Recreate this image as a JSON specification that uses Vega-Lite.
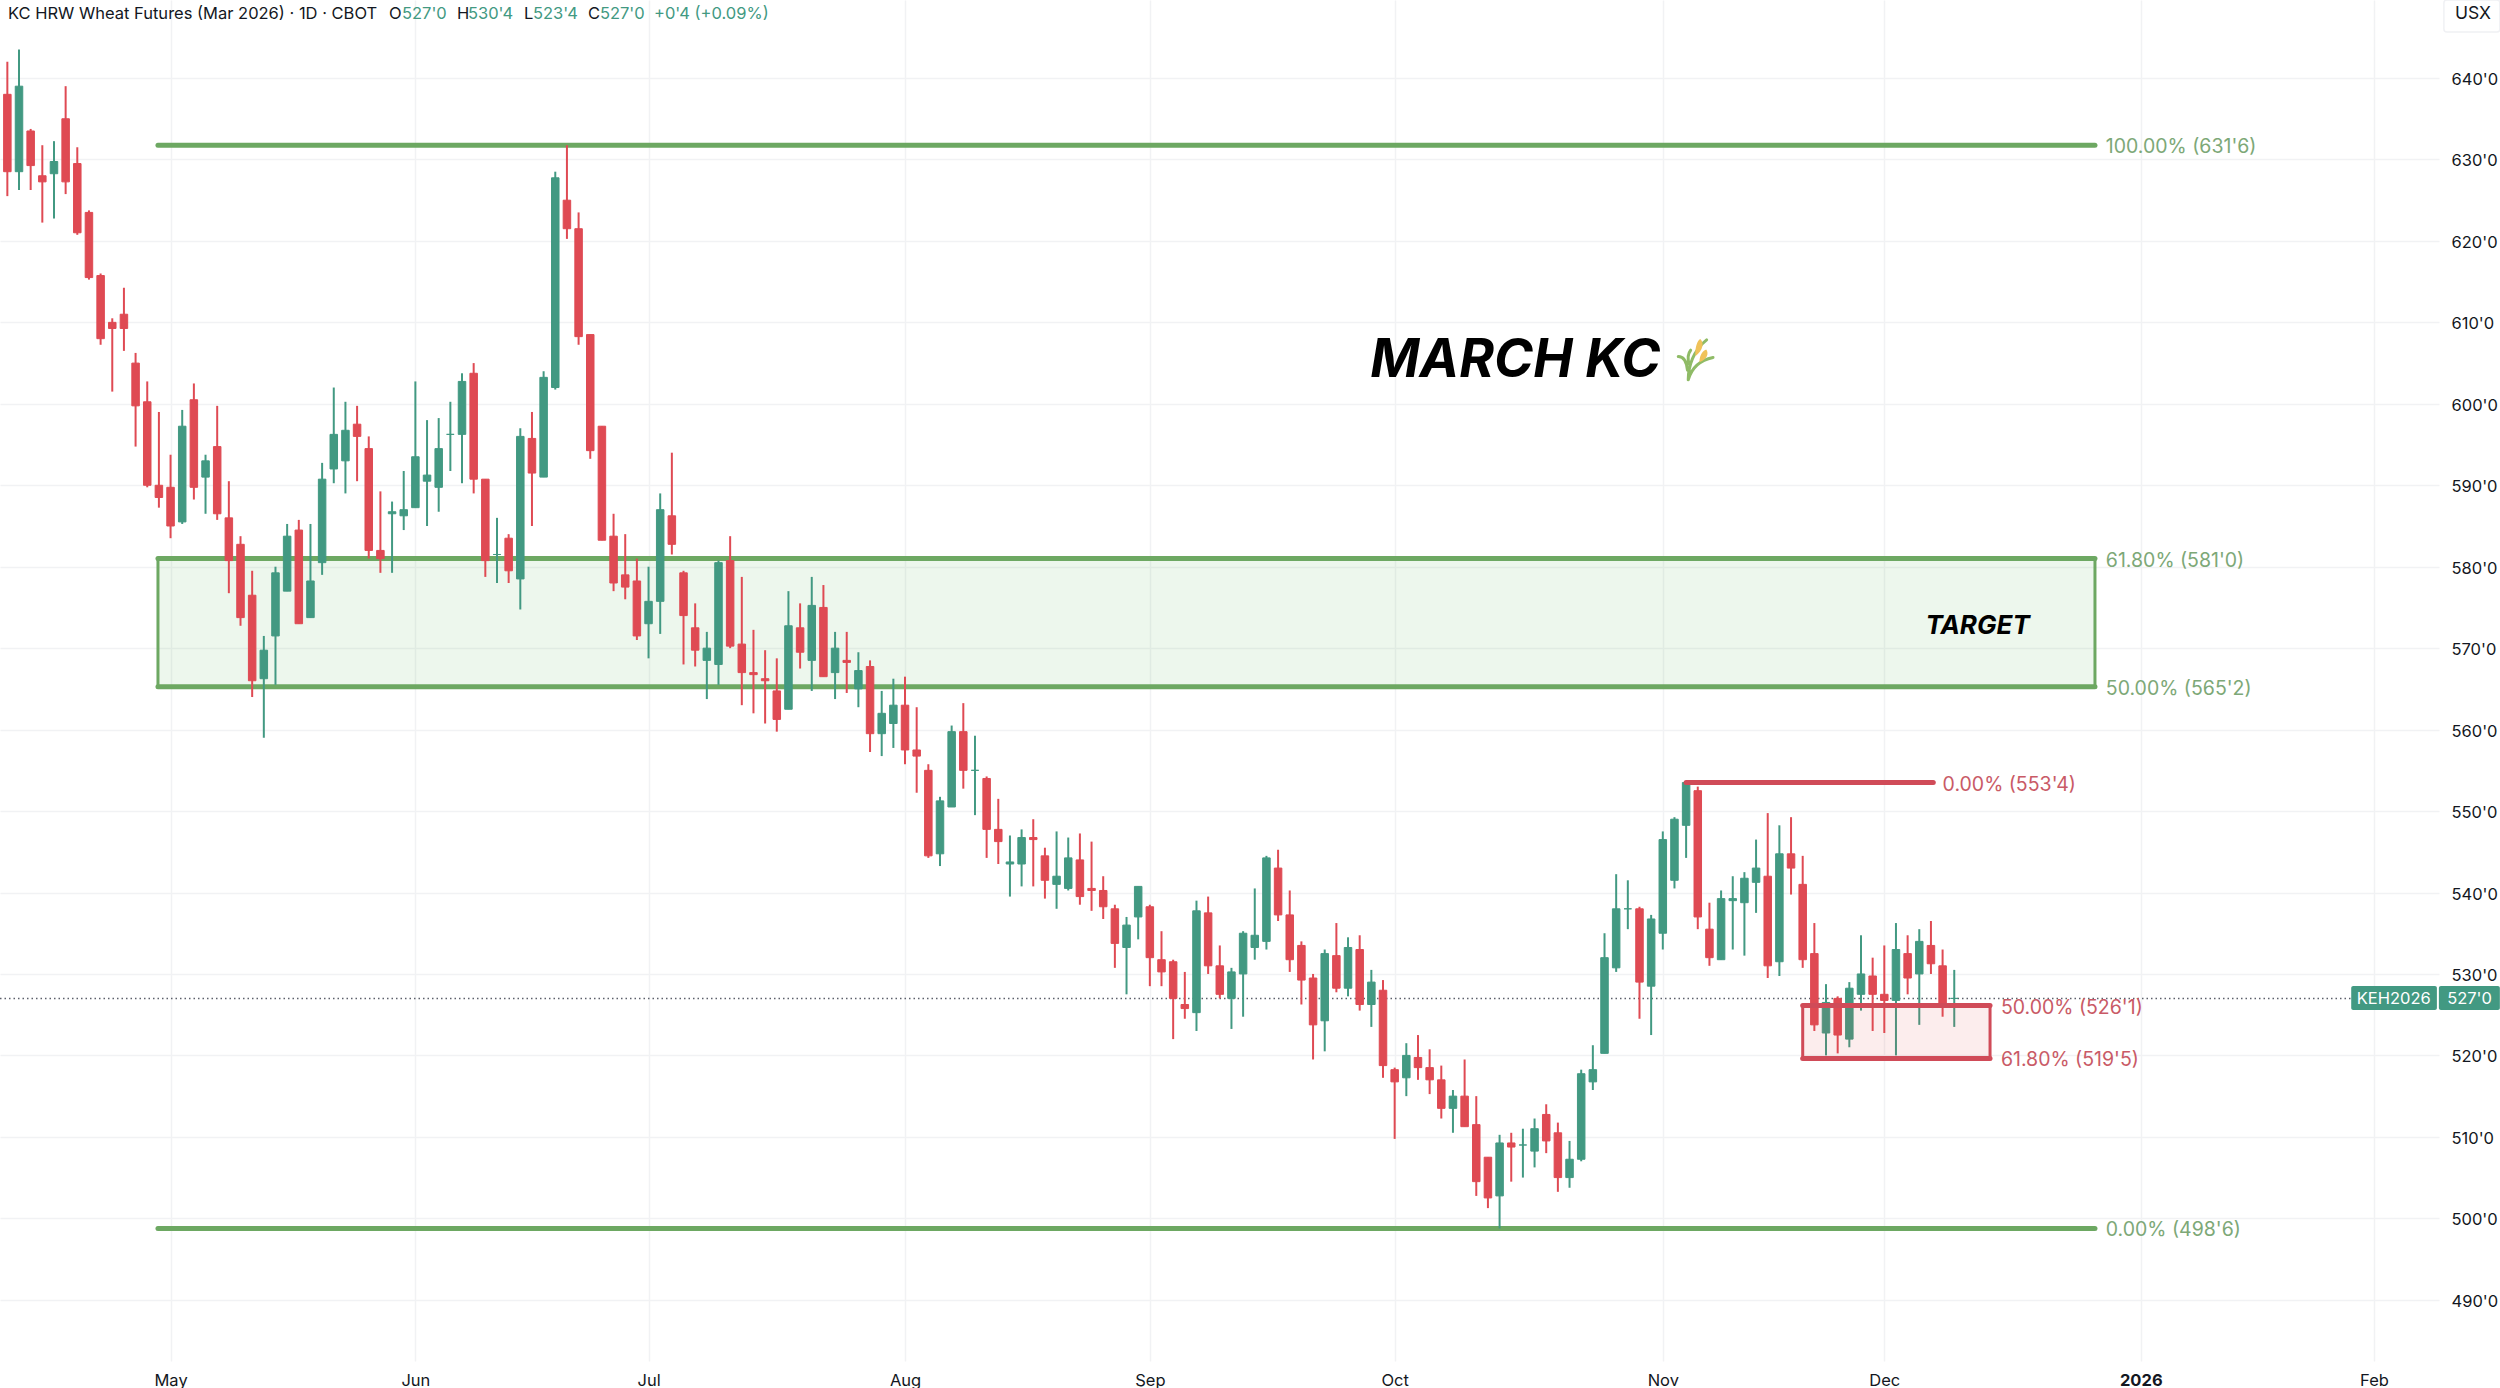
{
  "$schema": "https://vega.github.io/schema/vega-lite/v6.json",
  "width": 2439,
  "height": 1361,
  "autosize": "none",
  "padding": {"left": 0, "top": 0, "right": 61, "bottom": 27},
  "background": "white",
  "view": {"stroke": null},
  "datasets": {
    "candles": [
      {"bar":-14,"open":638,"high":642,"low":625.5,"close":628.5},
      {"bar":-13,"open":628.5,"high":643.5,"low":626.25,"close":639},
      {"bar":-12,"open":633.5,"high":633.75,"low":626.25,"close":629.25},
      {"bar":-11,"open":628,"high":631.75,"low":622.25,"close":627.25},
      {"bar":-10,"open":628.25,"high":632.25,"low":622.75,"close":629.75},
      {"bar":-9,"open":635,"high":639,"low":625.75,"close":627.25},
      {"bar":-8,"open":629.5,"high":631.5,"low":620.75,"close":621},
      {"bar":-7,"open":623.5,"high":623.75,"low":615.25,"close":615.5},
      {"bar":-6,"open":615.75,"high":616,"low":607.25,"close":608},
      {"bar":-5,"open":610,"high":610.5,"low":601.5,"close":609.25},
      {"bar":-4,"open":611,"high":614.25,"low":606.5,"close":609.25},
      {"bar":-3,"open":605,"high":606.25,"low":594.75,"close":599.75},
      {"bar":-2,"open":600.25,"high":602.75,"low":589.75,"close":590},
      {"bar":-1,"open":590,"high":599,"low":587.25,"close":588.5},
      {"bar":0,"open":589.75,"high":593.75,"low":583.5,"close":585},
      {"bar":1,"open":585.5,"high":599.25,"low":585.25,"close":597.25},
      {"bar":2,"open":600.5,"high":602.5,"low":588.25,"close":589.75},
      {"bar":3,"open":591,"high":593.75,"low":586.5,"close":593},
      {"bar":4,"open":594.75,"high":599.75,"low":585.75,"close":586.5},
      {"bar":5,"open":586,"high":590.5,"low":576.75,"close":580.75},
      {"bar":6,"open":582.75,"high":583.75,"low":572.75,"close":573.75},
      {"bar":7,"open":576.5,"high":579.5,"low":564,"close":566},
      {"bar":8,"open":566.25,"high":571.5,"low":559,"close":569.75},
      {"bar":9,"open":571.5,"high":580,"low":565.5,"close":579.25},
      {"bar":10,"open":577,"high":585.25,"low":577,"close":583.75},
      {"bar":11,"open":584.5,"high":585.75,"low":573,"close":573},
      {"bar":12,"open":573.75,"high":585.25,"low":573.75,"close":578.25},
      {"bar":13,"open":580.5,"high":592.75,"low":579,"close":590.75},
      {"bar":14,"open":592,"high":602,"low":590.25,"close":596.25},
      {"bar":15,"open":593,"high":600.25,"low":589,"close":596.75},
      {"bar":16,"open":597.5,"high":599.75,"low":590.5,"close":596},
      {"bar":17,"open":594.5,"high":596,"low":581,"close":582},
      {"bar":18,"open":582,"high":589.25,"low":579.25,"close":581},
      {"bar":19,"open":586.5,"high":588,"low":579.25,"close":586.75},
      {"bar":20,"open":586.25,"high":591.75,"low":584.5,"close":587},
      {"bar":21,"open":587.25,"high":602.75,"low":587.25,"close":593.5},
      {"bar":22,"open":590.5,"high":598,"low":585,"close":591.25},
      {"bar":23,"open":589.75,"high":598.25,"low":586.75,"close":594.5},
      {"bar":24,"open":596.25,"high":600.25,"low":591.75,"close":596.25},
      {"bar":25,"open":596.25,"high":603.75,"low":590.25,"close":602.75},
      {"bar":26,"open":603.75,"high":605,"low":589,"close":590.75},
      {"bar":27,"open":590.75,"high":590.75,"low":578.75,"close":580.75},
      {"bar":28,"open":581.5,"high":586,"low":578,"close":581.5},
      {"bar":29,"open":583.5,"high":584,"low":578,"close":579.5},
      {"bar":30,"open":578.5,"high":597,"low":574.75,"close":596},
      {"bar":31,"open":595.75,"high":599,"low":585,"close":591.5},
      {"bar":32,"open":591,"high":604,"low":591,"close":603.25},
      {"bar":33,"open":602,"high":628.5,"low":601.75,"close":627.75},
      {"bar":34,"open":625,"high":631.75,"low":620.25,"close":621.5},
      {"bar":35,"open":621.5,"high":623.5,"low":607.25,"close":608.25},
      {"bar":36,"open":608.5,"high":608.5,"low":593.25,"close":594.25},
      {"bar":37,"open":597.25,"high":597.25,"low":583.25,"close":583.25},
      {"bar":38,"open":583.75,"high":586.5,"low":577,"close":578},
      {"bar":39,"open":579,"high":584,"low":576,"close":577.5},
      {"bar":40,"open":578.25,"high":581,"low":571,"close":571.5},
      {"bar":41,"open":573,"high":580,"low":568.75,"close":575.75},
      {"bar":42,"open":575.75,"high":589,"low":571.75,"close":587},
      {"bar":43,"open":586.25,"high":594,"low":581.5,"close":582.75},
      {"bar":44,"open":579.25,"high":579.5,"low":568,"close":574},
      {"bar":45,"open":572.5,"high":575.5,"low":567.75,"close":569.75},
      {"bar":46,"open":568.5,"high":572,"low":563.75,"close":570},
      {"bar":47,"open":568,"high":580.75,"low":565.5,"close":580.5},
      {"bar":48,"open":580.75,"high":583.75,"low":570,"close":570.25},
      {"bar":49,"open":570.5,"high":578.75,"low":563,"close":567},
      {"bar":50,"open":567,"high":572.25,"low":562,"close":566.75},
      {"bar":51,"open":566.25,"high":569.75,"low":560.75,"close":566},
      {"bar":52,"open":564.75,"high":568.75,"low":559.75,"close":561.25},
      {"bar":53,"open":562.5,"high":577,"low":562.5,"close":572.75},
      {"bar":54,"open":572.5,"high":575.5,"low":567.5,"close":569.5},
      {"bar":55,"open":568.5,"high":578.75,"low":564.75,"close":575.25},
      {"bar":56,"open":575,"high":577.75,"low":566.5,"close":566.5},
      {"bar":57,"open":567,"high":572,"low":563.75,"close":570},
      {"bar":58,"open":568.5,"high":572,"low":564.5,"close":568.25},
      {"bar":59,"open":565,"high":569.5,"low":562.75,"close":567.25},
      {"bar":60,"open":567.75,"high":568.5,"low":557.25,"close":559.5},
      {"bar":61,"open":559.5,"high":564.75,"low":556.75,"close":562},
      {"bar":62,"open":560.75,"high":566.25,"low":557.75,"close":563},
      {"bar":63,"open":563,"high":566.5,"low":555.75,"close":557.5},
      {"bar":64,"open":557.5,"high":562.75,"low":552.25,"close":556.75},
      {"bar":65,"open":555,"high":555.75,"low":544.25,"close":544.5},
      {"bar":66,"open":544.75,"high":551.75,"low":543.25,"close":551.25},
      {"bar":67,"open":550.5,"high":560.5,"low":550.5,"close":559.75},
      {"bar":68,"open":559.75,"high":563.25,"low":552.75,"close":555},
      {"bar":69,"open":555,"high":559.25,"low":549.5,"close":555},
      {"bar":70,"open":554,"high":554.25,"low":544.25,"close":547.75},
      {"bar":71,"open":547.75,"high":551.5,"low":543.5,"close":546.25},
      {"bar":72,"open":543.5,"high":547,"low":539.5,"close":543.75},
      {"bar":73,"open":543.5,"high":547.75,"low":540.75,"close":546.75},
      {"bar":74,"open":546.75,"high":549,"low":540.75,"close":546.5},
      {"bar":75,"open":544.5,"high":545.5,"low":539.25,"close":541.5},
      {"bar":76,"open":541,"high":547.5,"low":538,"close":542},
      {"bar":77,"open":540.5,"high":546.75,"low":540.25,"close":544.25},
      {"bar":78,"open":544,"high":547.25,"low":538.5,"close":539.5},
      {"bar":79,"open":540.5,"high":546.25,"low":537.75,"close":540.25},
      {"bar":80,"open":540.25,"high":542,"low":536.75,"close":538.25},
      {"bar":81,"open":538,"high":538.5,"low":530.75,"close":533.75},
      {"bar":82,"open":533.25,"high":537,"low":527.5,"close":536},
      {"bar":83,"open":537,"high":540.75,"low":534.25,"close":540.75},
      {"bar":84,"open":538.25,"high":538.5,"low":528.5,"close":532},
      {"bar":85,"open":531.75,"high":535.25,"low":528.5,"close":530.25},
      {"bar":86,"open":531.5,"high":531.75,"low":522,"close":527},
      {"bar":87,"open":526.25,"high":530.25,"low":524.5,"close":525.75},
      {"bar":88,"open":525.25,"high":539,"low":523,"close":537.75},
      {"bar":89,"open":537.5,"high":539.5,"low":530,"close":531},
      {"bar":90,"open":531,"high":533.5,"low":527,"close":527.5},
      {"bar":91,"open":527,"high":530.75,"low":523.25,"close":530.25},
      {"bar":92,"open":530,"high":535.25,"low":524.75,"close":535},
      {"bar":93,"open":533.25,"high":540.5,"low":531.75,"close":534.75},
      {"bar":94,"open":534,"high":544.5,"low":533,"close":544.25},
      {"bar":95,"open":543,"high":545.25,"low":536.5,"close":537.25},
      {"bar":96,"open":537.25,"high":540.25,"low":530.25,"close":531.75},
      {"bar":97,"open":533.5,"high":534,"low":526.25,"close":529.25},
      {"bar":98,"open":529.5,"high":530,"low":519.5,"close":523.75},
      {"bar":99,"open":524.25,"high":533,"low":520.5,"close":532.5},
      {"bar":100,"open":532.25,"high":536.25,"low":527.75,"close":528.25},
      {"bar":101,"open":528.25,"high":534.5,"low":527.25,"close":533.25},
      {"bar":102,"open":533,"high":534.75,"low":525.5,"close":526.25},
      {"bar":103,"open":526.25,"high":530.5,"low":523.5,"close":529},
      {"bar":104,"open":528,"high":529.25,"low":517.25,"close":518.75},
      {"bar":105,"open":518.25,"high":518.5,"low":509.75,"close":516.75},
      {"bar":106,"open":517.25,"high":521.5,"low":515,"close":520},
      {"bar":107,"open":519.75,"high":522.5,"low":517,"close":518.5},
      {"bar":108,"open":518.5,"high":520.75,"low":515.25,"close":517},
      {"bar":109,"open":517,"high":518.75,"low":512.25,"close":513.5},
      {"bar":110,"open":513.5,"high":515.75,"low":510.5,"close":515},
      {"bar":111,"open":515,"high":519.5,"low":511.25,"close":511.25},
      {"bar":112,"open":511.5,"high":515,"low":502.75,"close":504.5},
      {"bar":113,"open":507.5,"high":507.5,"low":501.25,"close":502.5},
      {"bar":114,"open":502.75,"high":510.25,"low":498.75,"close":509.25},
      {"bar":115,"open":509.25,"high":510.5,"low":504.5,"close":508.75},
      {"bar":116,"open":509,"high":511,"low":505,"close":509},
      {"bar":117,"open":508.25,"high":512.25,"low":506.25,"close":511},
      {"bar":118,"open":512.75,"high":514,"low":508,"close":509.5},
      {"bar":119,"open":510.5,"high":511.75,"low":503.25,"close":505},
      {"bar":120,"open":505,"high":509.5,"low":503.75,"close":507.25},
      {"bar":121,"open":507.25,"high":518.25,"low":507,"close":517.75},
      {"bar":122,"open":516.75,"high":521.25,"low":515.75,"close":518.25},
      {"bar":123,"open":520.25,"high":535,"low":520.25,"close":532},
      {"bar":124,"open":530.75,"high":542.25,"low":530.25,"close":538},
      {"bar":125,"open":538,"high":541.5,"low":535.5,"close":538},
      {"bar":126,"open":538,"high":538.25,"low":524.5,"close":529},
      {"bar":127,"open":528.5,"high":537.25,"low":522.5,"close":536.75},
      {"bar":128,"open":535,"high":547.5,"low":533,"close":546.5},
      {"bar":129,"open":541.5,"high":549.25,"low":540.5,"close":549},
      {"bar":130,"open":548.25,"high":553.5,"low":544.25,"close":553.5},
      {"bar":131,"open":552.5,"high":553,"low":535.5,"close":537},
      {"bar":132,"open":535.5,"high":538.75,"low":531,"close":532},
      {"bar":133,"open":531.75,"high":540.25,"low":531.75,"close":539.25},
      {"bar":134,"open":539,"high":542,"low":533,"close":539.25},
      {"bar":135,"open":538.75,"high":542.5,"low":532.25,"close":541.75},
      {"bar":136,"open":541.25,"high":546.5,"low":537.5,"close":543},
      {"bar":137,"open":542,"high":549.75,"low":529.5,"close":531},
      {"bar":138,"open":531.5,"high":548.25,"low":529.75,"close":544.75},
      {"bar":139,"open":544.75,"high":549.25,"low":539.75,"close":543},
      {"bar":140,"open":541,"high":544.5,"low":530.75,"close":531.75},
      {"bar":141,"open":532.5,"high":536.25,"low":523,"close":523.75},
      {"bar":142,"open":522.75,"high":528.75,"low":520,"close":526.5},
      {"bar":143,"open":527,"high":527.25,"low":520.25,"close":522.5},
      {"bar":144,"open":522,"high":529,"low":521,"close":528.25},
      {"bar":145,"open":527.5,"high":534.75,"low":525.5,"close":530},
      {"bar":146,"open":529.75,"high":532,"low":523,"close":527.5},
      {"bar":147,"open":527.5,"high":533.5,"low":522.75,"close":526.75},
      {"bar":148,"open":526.75,"high":536.25,"low":520,"close":533},
      {"bar":149,"open":532.5,"high":534.75,"low":527.5,"close":529.5},
      {"bar":150,"open":530,"high":535.5,"low":523.75,"close":534},
      {"bar":151,"open":533.5,"high":536.5,"low":530,"close":531.25},
      {"bar":152,"open":531,"high":533,"low":524.75,"close":526.25},
      {"bar":153,"open":527,"high":530.5,"low":523.5,"close":527}
    ],
    "greenFib": [
      {"bar":-1.08,"bar2":165.07,"price":631.75},
      {"bar":-1.08,"bar2":165.07,"price":581},
      {"bar":-1.08,"bar2":165.07,"price":565.25},
      {"bar":-1.08,"bar2":165.07,"price":498.75}
    ],
    "greenLabels": [
      {"bar":166,"price":631.75,"label":"100.00% (631'6)"},
      {"bar":166,"price":581,"label":"61.80% (581'0)"},
      {"bar":166,"price":565.25,"label":"50.00% (565'2)"},
      {"bar":166,"price":498.75,"label":"0.00% (498'6)"}
    ],
    "redFib": [
      {"bar":130,"bar2":151.2,"price":553.5},
      {"bar":140,"bar2":156.07,"price":526.125},
      {"bar":140,"bar2":156.07,"price":519.625}
    ],
    "redLabels": [
      {"bar":152,"price":553.5,"label":"0.00% (553'4)"},
      {"bar":157,"price":526.125,"label":"50.00% (526'1)"},
      {"bar":157,"price":519.625,"label":"61.80% (519'5)"}
    ],
    "header": [
      {"bar":-13.95,"price":647.9,"text":"KC HRW Wheat Futures (Mar 2026) · 1D · CBOT"},
      {"bar":18.74,"price":647.9,"text":"O"},
      {"bar":24.57,"price":647.9,"text":"H"},
      {"bar":30.32,"price":647.9,"text":"L"},
      {"bar":35.8,"price":647.9,"text":"C"}
    ],
    "headerValues": [
      {"bar":19.85,"price":647.9,"text":"527'0"},
      {"bar":25.51,"price":647.9,"text":"530'4"},
      {"bar":31.09,"price":647.9,"text":"523'4"},
      {"bar":36.83,"price":647.9,"text":"527'0"},
      {"bar":41.47,"price":647.9,"text":"+0'4 (+0.09%)"}
    ]
  },
  "encoding": {
    "x": {
      "field": "bar",
      "type": "quantitative",
      "scale": {"domain": [-14.63, 194.58], "nice": false, "zero": false, "padding": 0},
      "axis": {
        "title": null,
        "values": [0, 21, 41, 63, 84, 105, 128, 147, 169, 189],
        "labelExpr": "{'0':'May','21':'Jun','41':'Jul','63':'Aug','84':'Sep','105':'Oct','128':'Nov','147':'Dec','169':'2026','189':'Feb'}[datum.value]",
        "labelFontWeight": {"condition": {"test": "datum.value == 169", "value": "bold"}, "value": "normal"},
        "labelFont": "Inter",
        "labelFontSize": 16.5,
        "labelColor": "#131722",
        "labelPadding": 11,
        "labelOverlap": false,
        "labelFlush": false,
        "domain": false,
        "ticks": false,
        "grid": true,
        "gridColor": "#f1f2f4",
        "gridWidth": 1.5
      }
    },
    "y": {
      "field": "price",
      "type": "quantitative",
      "scale": {"domain": [482.48, 649.58], "nice": false, "zero": false},
      "axis": {
        "title": null,
        "orient": "right",
        "values": [490, 500, 510, 520, 530, 540, 550, 560, 570, 580, 590, 600, 610, 620, 630, 640],
        "labelExpr": "datum.value + \"'0\"",
        "labelFont": "Inter",
        "labelFontSize": 16.5,
        "labelColor": "#131722",
        "labelPadding": 12,
        "labelOffset": 1.5,
        "labelOverlap": false,
        "labelFlush": false,
        "domain": false,
        "ticks": false,
        "grid": true,
        "gridColor": "#f1f2f4",
        "gridWidth": 1.5
      }
    }
  },
  "layer": [
    {
      "data": {"values": [{"bar": -1.08, "bar2": 165.07, "price": 581, "price2": 565.25}]},
      "mark": {"type": "rect", "fill": "#4caf50", "fillOpacity": 0.1},
      "encoding": {
        "x2": {"field": "bar2"},
        "y2": {"field": "price2"}
      }
    },
    {
      "data": {"values": [{"bar": -1.08, "price": 581, "price2": 565.25}, {"bar": 165.07, "price": 581, "price2": 565.25}]},
      "mark": {"type": "rule", "color": "#6da862", "strokeWidth": 3},
      "encoding": {"y2": {"field": "price2"}}
    },
    {
      "data": {"name": "greenFib"},
      "mark": {"type": "rule", "color": "#6da862", "strokeWidth": 5, "strokeCap": "round"},
      "encoding": {"x2": {"field": "bar2"}}
    },
    {
      "data": {"values": [{"bar": -14.63, "bar2": 187.05, "price": 527}]},
      "mark": {"type": "rule", "color": "#5d606b", "strokeWidth": 1.5, "strokeDash": [1.5, 3]},
      "encoding": {"x2": {"field": "bar2"}}
    },
    {
      "data": {"name": "candles"},
      "mark": {"type": "rule", "strokeWidth": 2},
      "encoding": {
        "y": {"field": "low", "type": "quantitative", "title": null},
        "y2": {"field": "high"},
        "color": {"condition": {"test": "datum.close >= datum.open", "value": "#429982"}, "value": "#df4a53"}
      }
    },
    {
      "data": {"name": "candles"},
      "mark": {"type": "bar", "size": 7.5, "strokeWidth": 1},
      "encoding": {
        "y": {"field": "open", "type": "quantitative", "title": null},
        "y2": {"field": "close"},
        "fill": {"condition": {"test": "datum.close >= datum.open", "value": "#429982"}, "value": "#df4a53"},
        "stroke": {"condition": {"test": "datum.close >= datum.open", "value": "#429982"}, "value": "#df4a53"}
      }
    },
    {
      "data": {"values": [{"bar": 140, "bar2": 156.07, "price": 526.125, "price2": 519.625}]},
      "mark": {"type": "rect", "fill": "#e04a53", "fillOpacity": 0.1},
      "encoding": {
        "x2": {"field": "bar2"},
        "y2": {"field": "price2"}
      }
    },
    {
      "data": {"values": [{"bar": 140, "price": 526.125, "price2": 519.625}, {"bar": 156.07, "price": 526.125, "price2": 519.625}]},
      "mark": {"type": "rule", "color": "#d04b58", "strokeWidth": 3},
      "encoding": {"y2": {"field": "price2"}}
    },
    {
      "data": {"name": "redFib"},
      "mark": {"type": "rule", "color": "#d04b58", "strokeWidth": 5, "strokeCap": "round"},
      "encoding": {"x2": {"field": "bar2"}}
    },
    {
      "data": {"name": "greenLabels"},
      "mark": {"type": "text", "align": "left", "baseline": "middle", "dy": 2, "font": "Inter", "fontSize": 19.5, "color": "#7da877"},
      "encoding": {"text": {"field": "label"}}
    },
    {
      "data": {"name": "redLabels"},
      "mark": {"type": "text", "align": "left", "baseline": "middle", "dy": 2, "font": "Inter", "fontSize": 19.5, "color": "#c95a66"},
      "encoding": {"text": {"field": "label"}}
    },
    {
      "data": {"values": [{"bar": 102.9, "price": 605.5, "text": "MARCH KC"}]},
      "mark": {"type": "text", "align": "left", "baseline": "middle", "dy": 2, "font": "Inter", "fontSize": 53, "fontWeight": "bold", "fontStyle": "italic", "color": "#000000"},
      "encoding": {"text": {"field": "text"}}
    },
    {
      "data": {"values": [{"bar": 130.8, "price": 605.6}]},
      "mark": {
        "type": "point",
        "size": 6400,
        "filled": false,
        "strokeWidth": 3,
        "strokeCap": "round",
        "color": "#8fbb66",
        "opacity": 1,
        "shape": "M-0.18,0.54 C-0.18,0.2 -0.05,-0.2 0.28,-0.46 M-0.18,0.54 C-0.1,0.25 0.1,0.05 0.44,-0.02 M-0.2,0.3 C-0.22,0.1 -0.3,-0.04 -0.43,-0.04 M-0.16,0.15 C-0.2,0 -0.2,-0.1 -0.12,-0.2"
      }
    },
    {
      "data": {"values": [{"bar": 130.8, "price": 605.6}]},
      "mark": {
        "type": "point",
        "size": 6400,
        "filled": true,
        "color": "#f0c259",
        "opacity": 1,
        "shape": "M0,-0.05 C-0.02,-0.25 0.05,-0.45 0.12,-0.48 C0.22,-0.4 0.2,-0.2 0,-0.05 Z M0.1,0.1 C0.1,-0.1 0.2,-0.2 0.27,-0.22 C0.34,-0.12 0.3,0.02 0.1,0.1 Z"
      }
    },
    {
      "data": {"values": [{"bar": 155, "price": 572.84, "text": "TARGET"}]},
      "mark": {"type": "text", "align": "center", "baseline": "middle", "dy": 1, "font": "Inter", "fontSize": 26, "fontWeight": "bold", "fontStyle": "italic", "color": "#000000"},
      "encoding": {"text": {"field": "text"}}
    },
    {
      "data": {"name": "header"},
      "mark": {"type": "text", "align": "left", "baseline": "middle", "font": "Inter", "fontSize": 16.5, "color": "#131722"},
      "encoding": {"text": {"field": "text"}}
    },
    {
      "data": {"name": "headerValues"},
      "mark": {"type": "text", "align": "left", "baseline": "middle", "font": "Inter", "fontSize": 16.5, "color": "#429982"},
      "encoding": {"text": {"field": "text"}}
    },
    {
      "data": {"values": [{"bar": 187.05, "bar2": 194.4, "price": 528.52, "price2": 525.57}, {"bar": 194.57, "bar2": 199.8, "price": 528.52, "price2": 525.57}]},
      "mark": {"type": "rect", "fill": "#429982", "cornerRadius": 2},
      "encoding": {
        "x2": {"field": "bar2"},
        "y2": {"field": "price2"}
      }
    },
    {
      "data": {"values": [{"bar": 190.7, "price": 527, "text": "KEH2026"}, {"bar": 197.2, "price": 527, "text": "527'0"}]},
      "mark": {"type": "text", "align": "center", "baseline": "middle", "dy": 1, "font": "Inter", "fontSize": 16.5, "color": "#ffffff"},
      "encoding": {"text": {"field": "text"}}
    },
    {
      "data": {"values": [{"bar": 195, "bar2": 199.8, "price": 649.58, "price2": 645.65}]},
      "mark": {"type": "rect", "fill": "#ffffff", "stroke": "#f0f1f4", "strokeWidth": 1.5, "cornerRadius": 3},
      "encoding": {
        "x2": {"field": "bar2"},
        "y2": {"field": "price2"}
      }
    },
    {
      "data": {"values": [{"bar": 197.49, "price": 647.86, "text": "USX"}]},
      "mark": {"type": "text", "align": "center", "baseline": "middle", "font": "Inter", "fontSize": 17.5, "color": "#131722"},
      "encoding": {"text": {"field": "text"}}
    }
  ]
}
